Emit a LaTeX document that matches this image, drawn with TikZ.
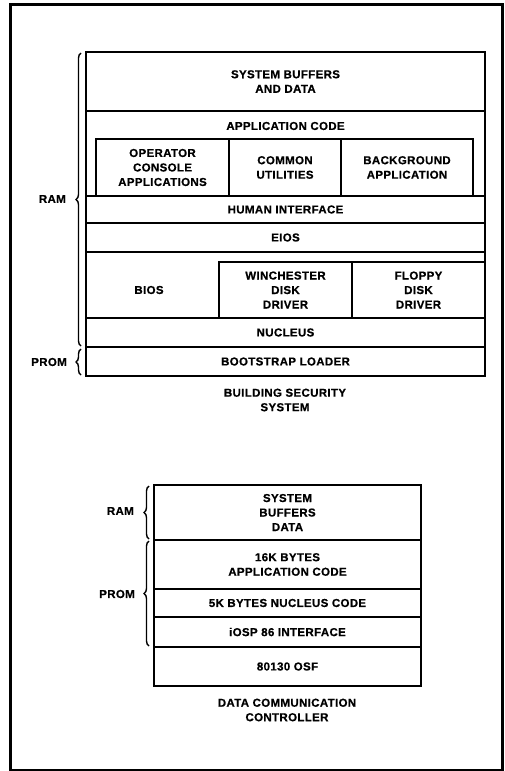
\documentclass[tikz,border=0pt]{standalone}
\usepackage{fontspec}
\setmainfont{Liberation Sans}[LetterSpace=3, BoldFeatures={FakeBold=0.6}]
\usetikzlibrary{decorations.pathreplacing}
\begin{document}
\begin{tikzpicture}[x=1pt,y=-1pt,
  lbl/.style={font=\fontsize{11.5}{14.5}\selectfont\bfseries, align=center, inner sep=0pt},
  cell/.style={draw, line width=1.6pt, inner sep=0pt, outer sep=0pt, anchor=north west, lbl},
  brc/.style={decorate, decoration={brace, amplitude=5pt}, line width=1.4pt},
  outline/.style={line width=2.4pt},
]
\useasboundingbox (0,0) rectangle (504,771);
\node[draw, line width=2.6pt, inner sep=0pt, minimum width=492pt, minimum height=766pt, anchor=north west] (frame) at (9,3) {};

% ---- Building security system ----
\node[cell, minimum width=399pt, minimum height=59pt] (sbd) at (86,52) {SYSTEM BUFFERS\\AND DATA};
\node[cell, minimum width=399pt, minimum height=85pt] (app) at (86,111) {};
\node[lbl] (apptxt) at (285.5,126) {APPLICATION CODE};
\node[cell, minimum width=133pt, minimum height=57pt] (opc) at (96,139) {OPERATOR\\CONSOLE\\APPLICATIONS};
\node[cell, minimum width=112pt, minimum height=57pt] (cu) at (229,139) {COMMON\\UTILITIES};
\node[cell, minimum width=132pt, minimum height=57pt] (bg) at (341,139) {BACKGROUND\\APPLICATION};
\node[cell, minimum width=399pt, minimum height=27pt] (hi) at (86,196) {HUMAN INTERFACE};
\node[cell, minimum width=399pt, minimum height=29pt] (eios) at (86,223) {EIOS};
\node[cell, minimum width=399pt, minimum height=66pt] (biosrow) at (86,252) {};
\node[lbl] (bios) at (149,290) {BIOS};
\node[cell, minimum width=133pt, minimum height=56pt] (wdd) at (219,262) {WINCHESTER\\DISK\\DRIVER};
\node[cell, minimum width=133pt, minimum height=56pt] (fdd) at (352,262) {FLOPPY\\DISK\\DRIVER};
\node[cell, minimum width=399pt, minimum height=29pt] (nuc) at (86,318) {NUCLEUS};
\node[cell, minimum width=399pt, minimum height=29pt] (boot) at (86,347) {BOOTSTRAP LOADER};
\draw[outline] (sbd.north west) rectangle (boot.south east);

\coordinate (ramtopA) at (81,53);
\coordinate (rambotA) at (81,346);
\coordinate (promtopA) at (81,349);
\coordinate (prombotA) at (81,375);
\draw[brc] (rambotA) -- (ramtopA);
\draw[brc] (prombotA) -- (promtopA);
\node[lbl, anchor=east] (ramA) at (66,199) {RAM};
\node[lbl, anchor=east] (promA) at (67,362) {PROM};
\node[lbl] (bss) at (285,400) {BUILDING SECURITY\\SYSTEM};

% ---- Data communication controller ----
\node[cell, minimum width=267pt, minimum height=55pt] (sbd2) at (154,485) {SYSTEM\\BUFFERS\\DATA};
\node[cell, minimum width=267pt, minimum height=49pt] (k16) at (154,540) {16K BYTES\\APPLICATION CODE};
\node[cell, minimum width=267pt, minimum height=28pt] (k5) at (154,589) {5K BYTES NUCLEUS CODE};
\node[cell, minimum width=267pt, minimum height=30pt] (iosp) at (154,617) {iOSP 86 INTERFACE};
\node[cell, minimum width=267pt, minimum height=39pt] (osf) at (154,647) {80130 OSF};
\draw[outline] (sbd2.north west) rectangle (osf.south east);

\coordinate (ramtopB) at (149,486);
\coordinate (rambotB) at (149,539);
\coordinate (promtopB) at (149,541);
\coordinate (prombotB) at (149,646);
\draw[brc] (rambotB) -- (ramtopB);
\draw[brc] (prombotB) -- (promtopB);
\node[lbl, anchor=east] (ramB) at (134,511) {RAM};
\node[lbl, anchor=east] (promB) at (135,594) {PROM};
\node[lbl] (dcc) at (287,710) {DATA COMMUNICATION\\CONTROLLER};
\end{tikzpicture}
\end{document}
